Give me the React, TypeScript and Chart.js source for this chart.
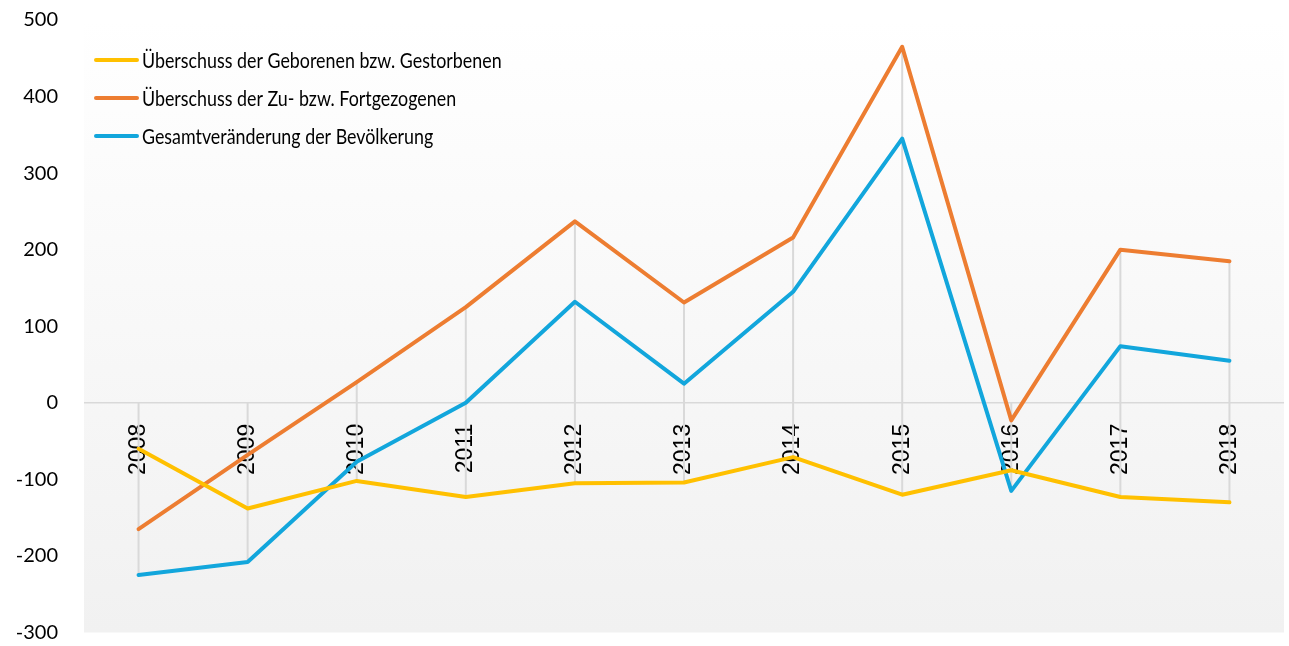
import React, { useEffect, useRef } from "react";
import { Chart, registerables } from "chart.js";

Chart.register(...registerables);

const years = ["2008", "2009", "2010", "2011", "2012", "2013", "2014", "2015", "2016", "2017", "2018"];
const seriesLabels = [
  "Überschuss der Geborenen bzw. Gestorbenen",
  "Überschuss der Zu- bzw. Fortgezogenen",
  "Gesamtveränderung der Bevölkerung",
];
const geborenen = [-60, -138, -102, -123, -105, -104, -71, -120, -88, -123, -130];
const zuzuege = [-165, -68, 27, 125, 237, 131, 216, 465, -23, 200, 185];
const gesamt = [-225, -208, -77, 0, 132, 25, 145, 345, -115, 74, 55];
const yTicks = [500, 400, 300, 200, 100, 0, -100, -200, -300];
const colors = ["#FFC000", "#ED7D31", "#12A6DC"];

const bgPlugin = {
  id: "bgGradient",
  beforeDraw(chart: any) {
    const { ctx, chartArea } = chart;
    if (!chartArea) return;
    const g = ctx.createLinearGradient(0, chartArea.top, 0, chartArea.bottom);
    g.addColorStop(0, "#ffffff");
    g.addColorStop(1, "#f1f1f1");
    ctx.save();
    ctx.fillStyle = g;
    ctx.fillRect(chartArea.left, chartArea.top, chartArea.right - chartArea.left, chartArea.bottom - chartArea.top);
    ctx.restore();
  },
};

const hiLoPlugin = {
  id: "hiLo",
  beforeDatasetsDraw(chart: any) {
    const { ctx } = chart;
    const xs = chart.scales.x;
    const ys = chart.scales.y;
    const n = chart.data.labels.length;
    ctx.save();
    ctx.strokeStyle = "#d9d9d9";
    ctx.lineWidth = 2;
    for (let i = 0; i < n; i++) {
      const vals = chart.data.datasets.map((d: any) => d.data[i] as number);
      const hi = Math.max(0, ...vals);
      const lo = Math.min(0, ...vals);
      const x = xs.getPixelForValue(i);
      ctx.beginPath();
      ctx.moveTo(x, ys.getPixelForValue(hi));
      ctx.lineTo(x, ys.getPixelForValue(lo));
      ctx.stroke();
    }
    ctx.restore();
  },
};

const legendPlugin = {
  id: "innerLegend",
  afterDatasetsDraw(chart: any) {
    const { ctx } = chart;
    ctx.save();
    ctx.font = "21px Lato";
    ctx.textBaseline = "middle";
    ctx.textAlign = "left";
    chart.data.datasets.forEach((d: any, i: number) => {
      const y = 60 + i * 38;
      ctx.strokeStyle = d.borderColor;
      ctx.lineWidth = 4;
      ctx.lineCap = "round";
      ctx.beginPath();
      ctx.moveTo(96, y);
      ctx.lineTo(137, y);
      ctx.stroke();
      ctx.fillStyle = "#000000";
      const w = ctx.measureText(d.label).width;
      ctx.fillText(d.label, 142, y + 1, w * 0.85);
    });
    ctx.restore();
  },
};

const zeroPad = (s: any) => {
  s.paddingTop = 0;
  s.paddingBottom = 0;
  s.paddingLeft = 0;
  s.paddingRight = 0;
};

export default function App() {
  const ref = useRef<HTMLCanvasElement | null>(null);
  useEffect(() => {
    if (!ref.current) return;
    const values = [geborenen, zuzuege, gesamt];
    const chart = new Chart(ref.current, {
      type: "line",
      data: {
        labels: years,
        datasets: seriesLabels.map((label, i) => ({
          label,
          data: values[i],
          borderColor: colors[i],
          backgroundColor: colors[i],
          borderWidth: 4,
          pointRadius: 0,
          tension: 0,
          borderCapStyle: "round" as const,
          borderJoinStyle: "round" as const,
        })),
      },
      options: {
        animation: false,
        responsive: true,
        maintainAspectRatio: false,
        layout: { padding: { top: 20, bottom: 13.5, left: 0, right: 5 } },
        plugins: { legend: { display: false }, tooltip: { enabled: false } },
        scales: {
          x: {
            position: { y: 0 } as any,
            offset: true,
            grid: { display: false },
            border: { display: false },
            ticks: {
              autoSkip: false,
              minRotation: 90,
              maxRotation: 90,
              padding: 13,
              color: "#000000",
              font: { family: "'Liberation Sans'", size: 23 },
            },
            afterFit: (s: any) => {
              s.height = 0;
              zeroPad(s);
            },
          },
          y: {
            min: -300,
            max: 500,
            afterBuildTicks: (s: any) => {
              s.ticks = yTicks.map((v) => ({ value: v }));
            },
            grid: {
              drawTicks: false,
              lineWidth: 1.5,
              color: (c: any) => (c.tick && c.tick.value === 0 ? "#d9d9d9" : "rgba(0,0,0,0)"),
            },
            border: { display: false },
            ticks: {
              padding: 26,
              color: "#000000",
              font: { family: "Lato", size: 20 },
            },
            afterFit: (s: any) => {
              s.width = 84;
              zeroPad(s);
            },
          },
        },
      },
      plugins: [bgPlugin, hiLoPlugin, legendPlugin],
    });
    return () => chart.destroy();
  }, []);
  return (
    <div style={{ position: "absolute", left: 0, top: 0, width: 1289, height: 646, background: "#ffffff" }}>
      <canvas ref={ref} />
    </div>
  );
}
